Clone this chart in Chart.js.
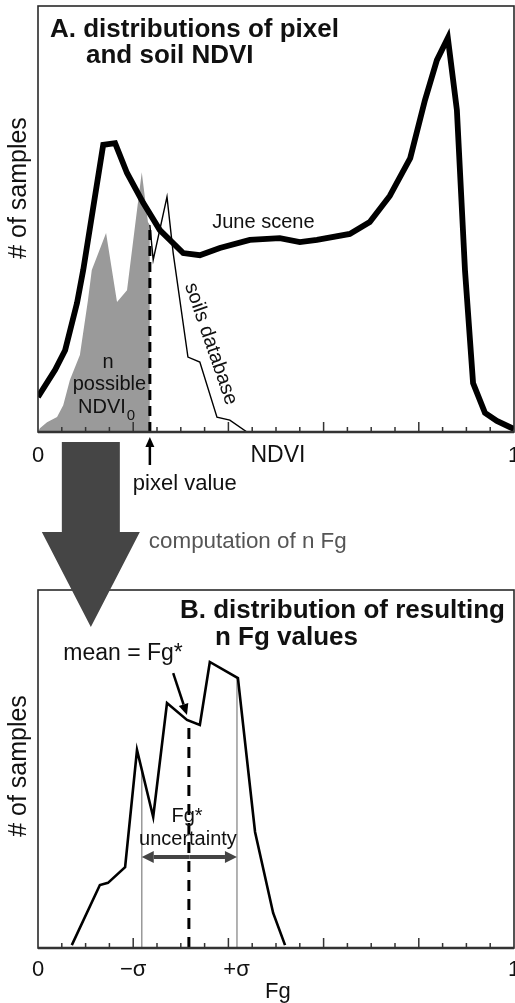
<!DOCTYPE html>
<html><head><meta charset="utf-8">
<script src="https://cdn.jsdelivr.net/npm/chart.js@4/dist/chart.umd.min.js"></script>
<style>
html,body{margin:0;padding:0;background:#fff;width:515px;height:1003px;overflow:hidden}
#wrapA{position:absolute;left:0;top:0;width:515px;height:640px;z-index:2}
#wrapB{position:absolute;left:0;top:560px;width:515px;height:443px;z-index:1}
</style></head><body>
<div id="wrapB"><canvas id="cB"></canvas></div>
<div id="wrapA"><canvas id="cA"></canvas></div>
<script>
// ---------- Panel A data (NDVI distributions) ----------
const juneNdvi  = [0.000,0.036,0.057,0.082,0.095,0.137,0.162,0.187,0.221,0.256,0.305,0.340,0.382,0.445,0.508,0.550,0.586,0.655,0.697,0.739,0.782,0.813,0.838,0.861,0.880,0.897,0.914,0.939,0.964,1.000];
const juneCount = [8.2,14.6,19.2,30.3,38.0,67.4,67.8,60.8,53.8,47.4,42.0,41.5,43.2,45.1,45.5,44.6,45.1,46.5,49.3,55.4,64.3,77.9,87.3,92.5,75.6,38.0,11.5,4.5,2.6,0.7];
const soilNdvi  = [0.000,0.004,0.019,0.040,0.053,0.067,0.088,0.105,0.113,0.143,0.166,0.187,0.208,0.218,0.231,0.235,0.242,0.271,0.284,0.315,0.340,0.376,0.403,0.439];
const soilCount = [0,0.9,2.3,3.5,6.3,12.2,18.1,31.0,38.0,46.7,30.5,33.3,52.1,61.0,49.3,48.6,40.4,55.2,42.0,17.6,16.4,3.5,2.8,0];
const pixelValue = 0.235;
const pixelMarkerTop = 48;

// ---------- Panel B data (Fg distribution) ----------
const fgValues = [0.071,0.130,0.147,0.183,0.208,0.242,0.271,0.313,0.340,0.361,0.420,0.456,0.494,0.519];
const fgCount  = [0.8,17.6,18.2,22.6,55.3,36.6,68.4,63.7,62.3,79.9,75.4,32.4,9.8,0.8];
const fgMean = 0.317, fgMeanTop = 63;
const sigmaLow = 0.218, sigmaLowTop = 49.7;
const sigmaHigh = 0.418, sigmaHighTop = 75.4;

// ---------- axis ticks ----------
const tickVals = [0.05,0.1,0.15,0.2,0.25,0.3,0.35,0.4,0.45,0.5,0.55,0.6,0.65,0.7,0.75,0.8,0.85,0.9,0.95];
const majorTicks = [0.2,0.4,0.6,0.8];
const labelsA = ['0','1'];
const labelPosA = [0,1];
const labelsB = ['0','\u2212\u03c3','+\u03c3','1'];
const labelPosB = [0,0.2,0.417,1];

const FONT = '"Liberation Sans", Arial, Helvetica, sans-serif';
const pts = (xs, ys) => xs.map((x,i)=>({x:x, y:ys[i]}));

function P(chart, x, y){ return [chart.scales.x.getPixelForValue(x), chart.scales.y.getPixelForValue(y)]; }
function txt(ctx, s, x, y, size, opts){
  opts = opts||{};
  ctx.save();
  ctx.font = (opts.bold?'bold ':'') + size + 'px ' + FONT;
  ctx.fillStyle = opts.color||'#111';
  ctx.textAlign = opts.align||'left';
  ctx.textBaseline = opts.baseline||'alphabetic';
  if (opts.rot){ ctx.translate(x,y); ctx.rotate(opts.rot); ctx.fillText(s,0,0); }
  else ctx.fillText(s,x,y);
  ctx.restore();
}
function arrow(ctx, x1,y1,x2,y2, lw, hl, hw, color){
  const ang = Math.atan2(y2-y1, x2-x1);
  const bx = x2 - hl*Math.cos(ang), by = y2 - hl*Math.sin(ang);
  ctx.save();
  ctx.strokeStyle=color; ctx.fillStyle=color; ctx.lineWidth=lw;
  ctx.beginPath(); ctx.moveTo(x1,y1); ctx.lineTo(bx,by); ctx.stroke();
  ctx.beginPath(); ctx.moveTo(x2,y2);
  ctx.lineTo(bx + hw*Math.sin(ang), by - hw*Math.cos(ang));
  ctx.lineTo(bx - hw*Math.sin(ang), by + hw*Math.cos(ang));
  ctx.closePath(); ctx.fill();
  ctx.restore();
}
function frame(chart){
  const ctx = chart.ctx, a = chart.chartArea, xs = chart.scales.x;
  ctx.save();
  ctx.strokeStyle='#2a2a2a'; ctx.lineWidth=1.6;
  ctx.strokeRect(a.left, a.top, a.right-a.left, a.bottom-a.top);
  ctx.strokeStyle='#333'; ctx.lineWidth=2.5;
  ctx.beginPath(); ctx.moveTo(a.left, a.bottom); ctx.lineTo(a.right, a.bottom); ctx.stroke();
  ctx.lineWidth=1.5;
  tickVals.forEach(v=>{
    const x = xs.getPixelForValue(v);
    const len = majorTicks.includes(v)?10:5;
    ctx.beginPath(); ctx.moveTo(x, a.bottom); ctx.lineTo(x, a.bottom-len); ctx.stroke();
  });
  ctx.restore();
}

const baseOpts = (pad) => ({
  responsive:true, maintainAspectRatio:false, animation:false, devicePixelRatio:1,
  layout:{padding:pad},
  scales:{ x:{type:'linear',min:0,max:1,display:false}, y:{type:'linear',min:0,max:100,display:false} },
  plugins:{legend:{display:false}, tooltip:{enabled:false}},
  elements:{point:{radius:0}, line:{tension:0}}
});

// ---------------- Panel A ----------------
const annoA = {
  id:'annoA',
  afterDatasetsDraw(chart){
    const ctx = chart.ctx, a = chart.chartArea;
    frame(chart);
    // titles
    txt(ctx,'A. distributions of pixel', a.left+12, a.top+31, 26, {bold:true});
    txt(ctx,'and soil NDVI', a.left+48, a.top+57, 26, {bold:true});
    // y label
    txt(ctx,'# of samples', 19, 188, 25, {align:'center', baseline:'middle', rot:-Math.PI/2});
    // curve labels
    let p = P(chart, 0.366, 47.9); txt(ctx,'June scene', p[0], p[1], 20);
    p = P(chart, 0.363, 20.7); txt(ctx,'soils database', p[0], p[1], 20, {align:'center', baseline:'middle', rot:71*Math.PI/180});
    p = P(chart, 0.147, 15.0); txt(ctx,'n', p[0], p[1], 20, {align:'center'});
    p = P(chart, 0.150, 9.9); txt(ctx,'possible', p[0], p[1], 20, {align:'center'});
    p = P(chart, 0.143, 4.5);
    ctx.save(); ctx.font='20px '+FONT; const w1 = ctx.measureText('NDVI').width; ctx.font='15px '+FONT; const w2 = ctx.measureText('0').width; ctx.restore();
    txt(ctx,'NDVI', p[0]-(w1+w2)/2, p[1], 20);
    txt(ctx,'0', p[0]-(w1+w2)/2+w1+1, p[1]+7, 15);
    // axis labels
    labelsA.forEach((s,i)=>{ const x = chart.scales.x.getPixelForValue(labelPosA[i]); txt(ctx, s, x, a.bottom+30, 22, {align:'center'}); });
    txt(ctx,'NDVI', chart.scales.x.getPixelForValue(0.504), a.bottom+30, 23, {align:'center'});
    // pixel value arrow
    const xp = chart.scales.x.getPixelForValue(pixelValue);
    arrow(ctx, xp, a.bottom+33, xp, a.bottom+5, 2.5, 10, 4.5, '#000');
    txt(ctx,'pixel value', xp-17, a.bottom+58, 22);
    // big arrow
    const cx = chart.scales.x.getPixelForValue(0.111);
    const top = a.bottom+10, base = a.bottom+100, tip = a.bottom+195;
    ctx.save(); ctx.fillStyle='#454545';
    ctx.beginPath();
    ctx.moveTo(cx-29, top); ctx.lineTo(cx+29, top); ctx.lineTo(cx+29, base); ctx.lineTo(cx+49, base);
    ctx.lineTo(cx, tip); ctx.lineTo(cx-49, base); ctx.lineTo(cx-29, base); ctx.closePath(); ctx.fill();
    ctx.restore();
    txt(ctx,'computation of n Fg', cx+58, a.bottom+116, 22.4, {color:'#555'});
  }
};

new Chart(document.getElementById('cA'), {
  type:'scatter',
  data:{datasets:[
    {data:pts(juneNdvi, juneCount), showLine:true, borderColor:'#000', borderWidth:5.8, order:0},
    {data:pts(soilNdvi, soilCount).filter(d=>d.x>=pixelValue), showLine:true, borderColor:'#000', borderWidth:1.4, order:1},
    {data:[{x:pixelValue,y:0},{x:pixelValue,y:pixelMarkerTop}], showLine:true, borderColor:'#000', borderWidth:3, borderDash:[10,6], order:2},
    {data:pts(soilNdvi, soilCount).filter(d=>d.x<=pixelValue), showLine:true, borderWidth:0, borderColor:'rgba(0,0,0,0)', backgroundColor:'#9a9a9a', fill:'origin', order:3}
  ]},
  options: baseOpts({left:38, top:6, right:1, bottom:208}),
  plugins:[annoA]
});

// ---------------- Panel B ----------------
const annoB = {
  id:'annoB',
  afterDatasetsDraw(chart){
    const ctx = chart.ctx, a = chart.chartArea;
    frame(chart);
    txt(ctx,'B. distribution of resulting', a.left+142, a.top+28, 26, {bold:true});
    txt(ctx,'n Fg values', a.left+177, a.top+55, 26, {bold:true});
    txt(ctx,'# of samples', 19, 766-560, 25, {align:'center', baseline:'middle', rot:-Math.PI/2});
    let p = P(chart, 0.053, 80.4); txt(ctx,'mean = Fg*', p[0], p[1], 23);
    const p1 = P(chart, 0.284, 76.8), p2 = P(chart, 0.313, 65.1);
    arrow(ctx, p1[0], p1[1], p2[0], p2[1], 2.5, 11, 5, '#000');
    p = P(chart, 0.313, 35.2); txt(ctx,'Fg*', p[0], p[1], 20, {align:'center'});
    p = P(chart, 0.315, 28.8); txt(ctx,'uncertainty', p[0], p[1], 20, {align:'center'});
    const l = P(chart, sigmaLow, 25.4), r = P(chart, sigmaHigh, 25.4);
    const mid = (l[0]+r[0])/2;
    arrow(ctx, mid, l[1], l[0], l[1], 4, 12, 6, '#444');
    arrow(ctx, mid, r[1], r[0], r[1], 4, 12, 6, '#444');
    labelsB.forEach((s,i)=>{ const x = chart.scales.x.getPixelForValue(labelPosB[i]); txt(ctx, s, x, a.bottom+28, 22, {align:'center'}); });
    txt(ctx,'Fg', chart.scales.x.getPixelForValue(0.504), a.bottom+50, 22, {align:'center'});
  }
};

new Chart(document.getElementById('cB'), {
  type:'scatter',
  data:{datasets:[
    {data:pts(fgValues, fgCount), showLine:true, borderColor:'#000', borderWidth:2.6, order:0},
    {data:[{x:fgMean,y:0},{x:fgMean,y:fgMeanTop}], showLine:true, borderColor:'#000', borderWidth:3, borderDash:[11,8], order:1},
    {data:[{x:sigmaLow,y:0},{x:sigmaLow,y:sigmaLowTop}], showLine:true, borderColor:'#999', borderWidth:1.5, order:2},
    {data:[{x:sigmaHigh,y:0},{x:sigmaHigh,y:sigmaHighTop}], showLine:true, borderColor:'#999', borderWidth:1.5, order:2}
  ]},
  options: baseOpts({left:38, top:30, right:1, bottom:55}),
  plugins:[annoB]
});
</script>
</body></html>
